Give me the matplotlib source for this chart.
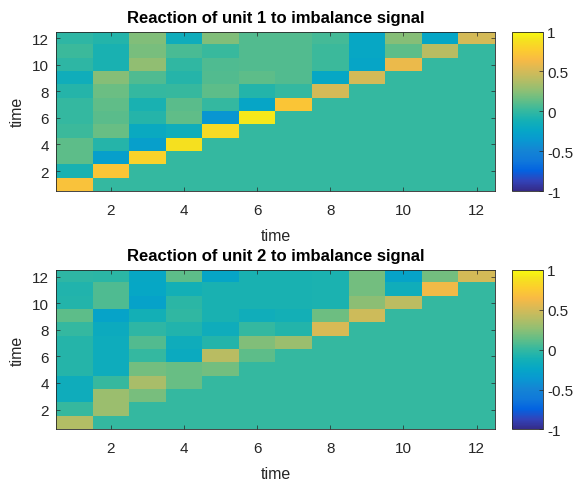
import numpy as np
import matplotlib
matplotlib.use('Agg')
import matplotlib.pyplot as plt
from matplotlib.colors import LinearSegmentedColormap

# time axis (steps)
steps = np.arange(1, 13)

# reaction of unit 1, rows are time y = 1..12, columns time x = 1..12
unit1 = np.array([
    [0.70, 0, 0, 0, 0, 0, 0, 0, 0, 0, 0, 0],
    [-0.10, 0.72, 0, 0, 0, 0, 0, 0, 0, 0, 0, 0],
    [0.12, -0.30, 0.80, 0, 0, 0, 0, 0, 0, 0, 0, 0],
    [0.12, -0.05, -0.30, 0.88, 0, 0, 0, 0, 0, 0, 0, 0],
    [0.03, 0.15, -0.20, -0.15, 0.85, 0, 0, 0, 0, 0, 0, 0],
    [0.00, 0.11, -0.05, 0.13, -0.37, 0.92, 0, 0, 0, 0, 0, 0],
    [0.00, 0.13, -0.10, 0.11, 0.00, -0.25, 0.72, 0, 0, 0, 0, 0],
    [-0.05, 0.16, 0.00, 0.01, 0.12, -0.06, 0.00, 0.50, 0, 0, 0, 0],
    [-0.15, 0.24, 0.08, -0.05, 0.09, 0.12, 0.09, -0.23, 0.50, 0, 0, 0],
    [-0.02, -0.10, 0.27, -0.01, 0.08, 0.09, 0.09, 0.03, -0.25, 0.60, 0, 0],
    [0.03, -0.10, 0.20, 0.07, 0.02, 0.09, 0.09, 0.03, -0.22, 0.12, 0.40, 0],
    [-0.02, -0.06, 0.22, -0.16, 0.22, 0.09, 0.09, 0.05, -0.22, 0.24, -0.24, 0.50],
])

# reaction of unit 2
unit2 = np.array([
    [0.38, 0, 0, 0, 0, 0, 0, 0, 0, 0, 0, 0],
    [0.01, 0.30, 0, 0, 0, 0, 0, 0, 0, 0, 0, 0],
    [-0.16, 0.30, 0.20, 0, 0, 0, 0, 0, 0, 0, 0, 0],
    [-0.16, 0.01, 0.35, 0.15, 0, 0, 0, 0, 0, 0, 0, 0],
    [-0.05, -0.17, 0.18, 0.15, 0.18, 0, 0, 0, 0, 0, 0, 0],
    [-0.05, -0.17, 0.00, -0.19, 0.40, 0.12, 0, 0, 0, 0, 0, 0],
    [-0.05, -0.17, 0.09, -0.16, -0.06, 0.22, 0.30, 0, 0, 0, 0, 0],
    [0.00, -0.18, -0.02, -0.07, -0.16, 0.00, -0.06, 0.52, 0, 0, 0, 0],
    [0.12, -0.26, -0.13, -0.01, -0.10, -0.15, -0.13, 0.17, 0.48, 0, 0, 0],
    [-0.06, 0.08, -0.28, -0.03, -0.10, -0.10, -0.10, -0.09, 0.25, 0.42, 0, 0],
    [-0.07, 0.08, -0.23, -0.13, -0.10, -0.10, -0.10, -0.09, 0.18, -0.15, 0.62, 0],
    [-0.02, -0.03, -0.22, 0.12, -0.25, -0.10, -0.10, -0.09, 0.18, -0.26, 0.18, 0.50],
])

titles = ['Reaction of unit 1 to imbalance signal',
          'Reaction of unit 2 to imbalance signal']

# MATLAB parula, every 4th entry of the 64-colour table
parula_rgb = [
    (0.2081, 0.1663, 0.5292), (0.1959, 0.2645, 0.7279), (0.0117, 0.3875, 0.8820),
    (0.0629, 0.4737, 0.8554), (0.0793, 0.5200, 0.8312), (0.0343, 0.5966, 0.8199),
    (0.0228, 0.6535, 0.7768), (0.0843, 0.6928, 0.7062), (0.2178, 0.7250, 0.6193),
    (0.3953, 0.7459, 0.5244), (0.5709, 0.7485, 0.4494), (0.7184, 0.7411, 0.3905),
    (0.8507, 0.7299, 0.3360), (0.9739, 0.7314, 0.2666), (0.9880, 0.8066, 0.1794),
    (0.9589, 0.8949, 0.1132), (0.9763, 0.9831, 0.0538),
]
pos = [min(i * 4, 63) / 63 for i in range(len(parula_rgb))]
parula = LinearSegmentedColormap.from_list('parula', list(zip(pos, parula_rgb)))

plt.rcParams['font.family'] = ['Liberation Sans', 'DejaVu Sans']
plt.rcParams['font.size'] = 11

fig = plt.figure(figsize=(5.76, 4.81), dpi=100, facecolor='w')
ax_pos = [[0.0972, 0.6008, 0.762, 0.3316], [0.0972, 0.1050, 0.762, 0.3316]]
cb_pos = [[0.889, 0.6008, 0.0538, 0.3316], [0.889, 0.1050, 0.0538, 0.3316]]
dark = '#262626'

for k, data in enumerate([unit1, unit2]):
    ax = fig.add_axes(ax_pos[k])
    im = ax.imshow(data, cmap=parula, vmin=-1, vmax=1, origin='lower', aspect='auto',
                   interpolation='nearest', extent=[0.5, 12.5, 0.5, 12.5])
    ax.set_xticks(steps[1::2])
    ax.set_yticks(steps[1::2])
    ax.tick_params(direction='in', top=True, right=True, length=3, width=0.5,
                   colors=dark, labelcolor=dark, labelsize=11)
    ax.tick_params(axis='x', pad=8.5)
    ax.tick_params(axis='y', pad=5)
    for s in ax.spines.values():
        s.set_linewidth(0.6)
        s.set_color(dark)
    ax.set_xlabel('time', fontsize=11.5, color=dark, labelpad=8)
    ax.set_ylabel('time', fontsize=11.5, color=dark, labelpad=5)
    ax.set_title(titles[k], fontsize=12, fontweight='bold', color='black', pad=7)

    cax = fig.add_axes(cb_pos[k])
    cb = fig.colorbar(im, cax=cax, ticks=[-1, -0.5, 0, 0.5, 1])
    cb.ax.set_yticklabels(['-1', '-0.5', '0', '0.5', '1'])
    cb.ax.tick_params(direction='in', length=3, width=0.5, colors=dark,
                      labelcolor=dark, labelsize=11, pad=3)
    cb.outline.set_linewidth(0.6)
    cb.outline.set_edgecolor(dark)

plt.savefig('out.png', dpi=100)
plt.close()
